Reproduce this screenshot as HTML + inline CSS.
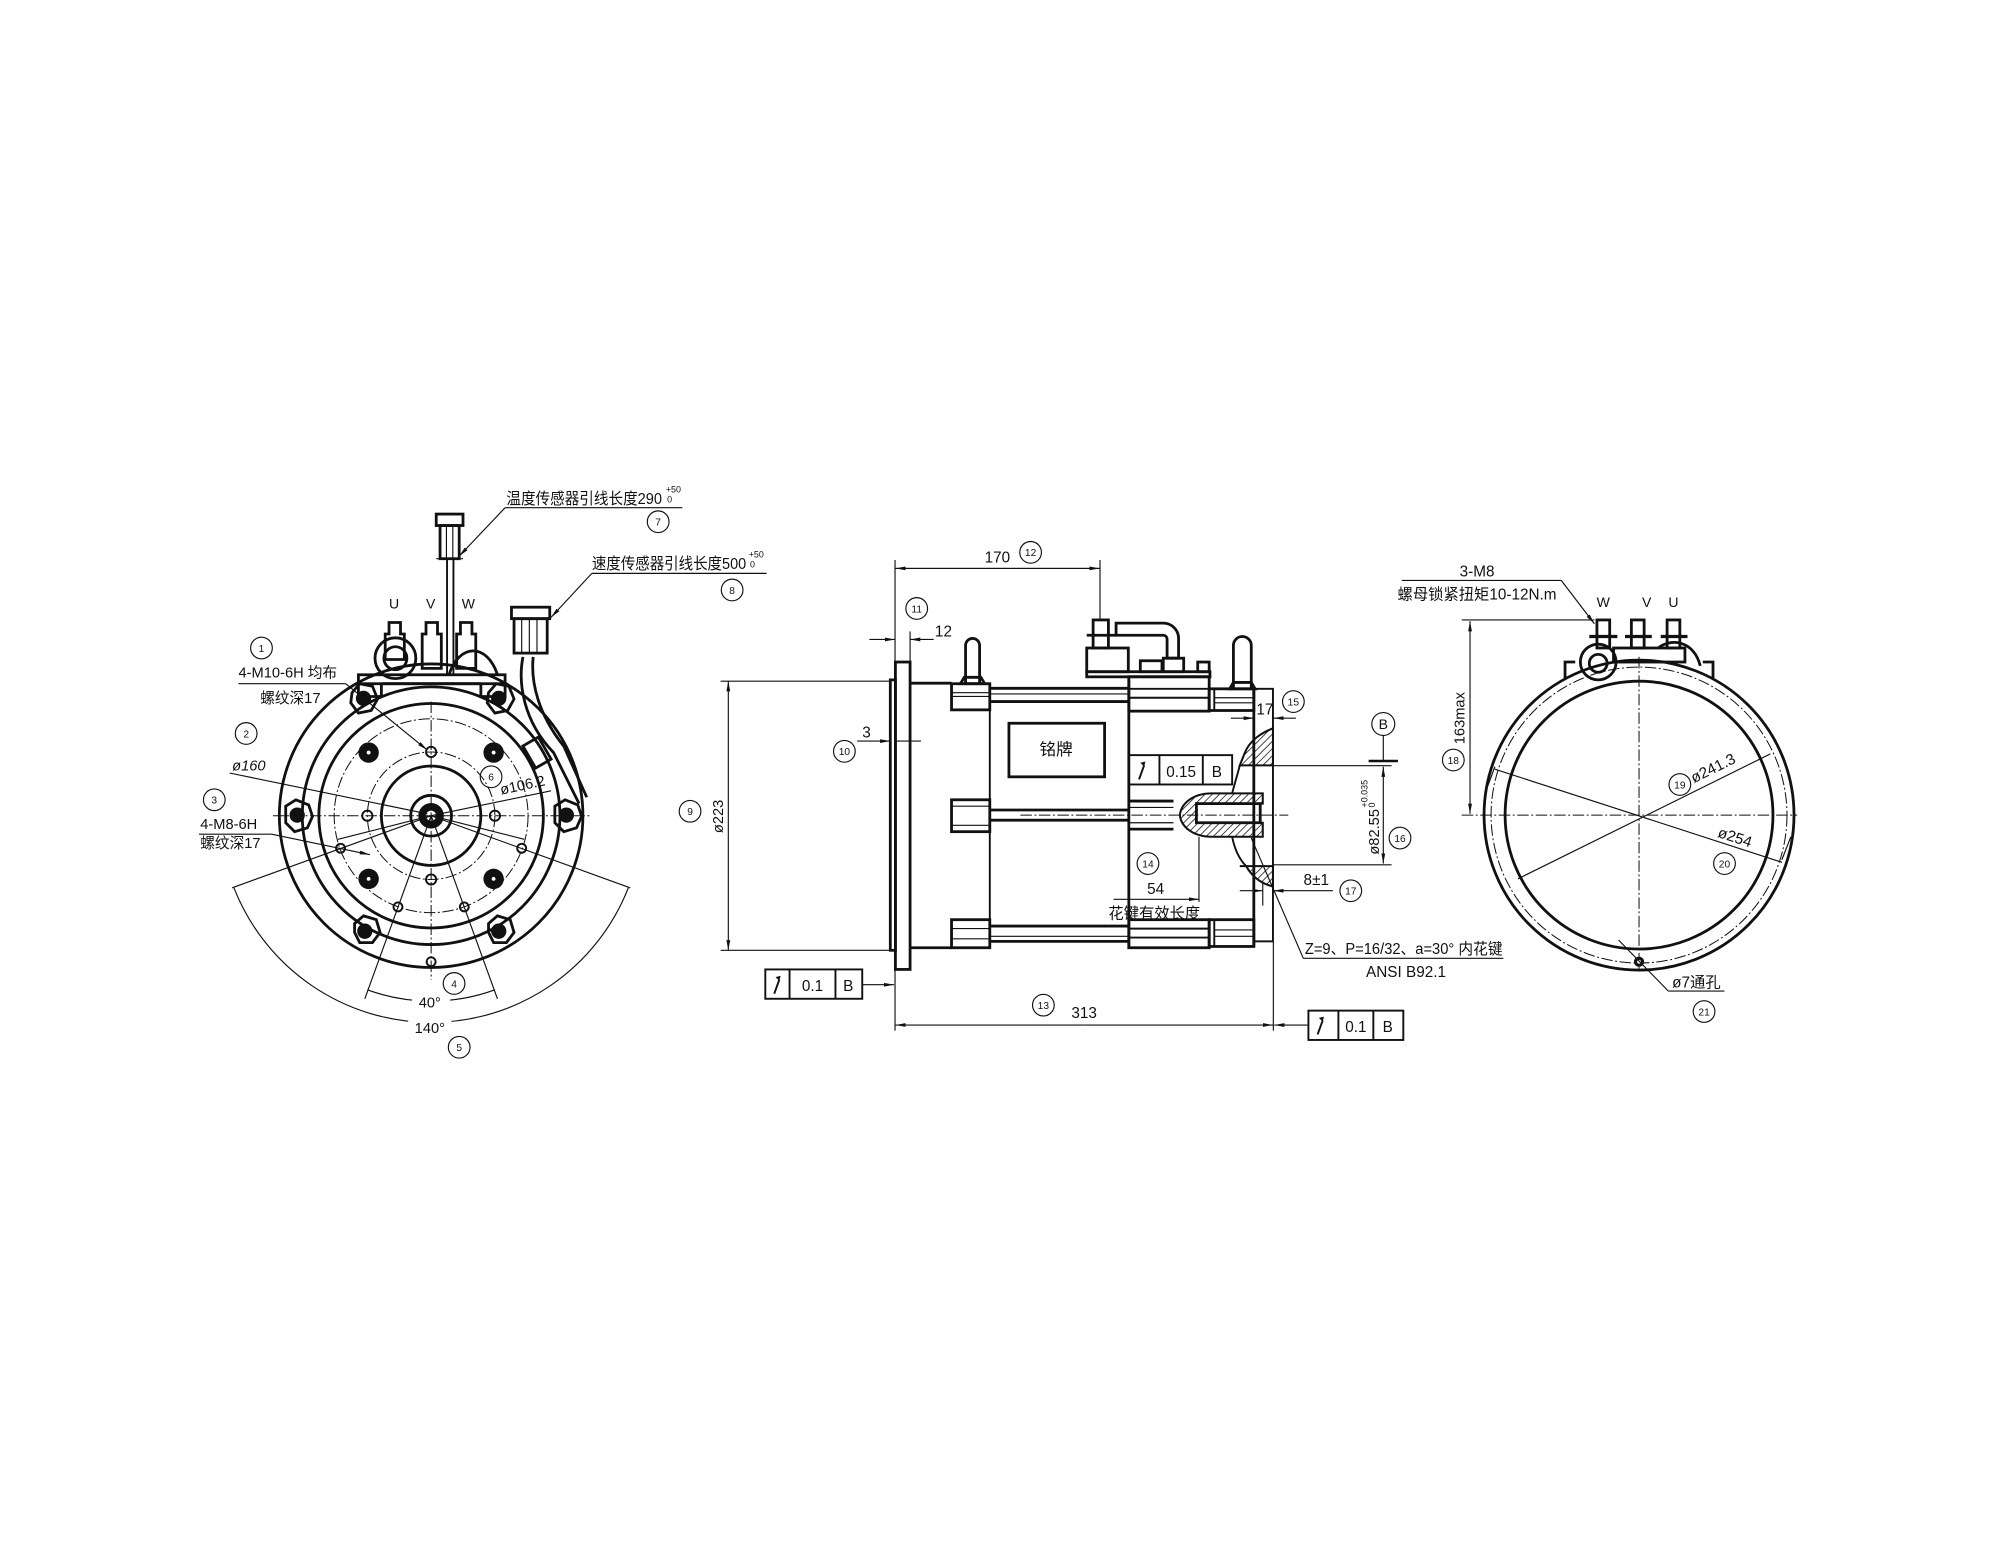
<!DOCTYPE html>
<html><head><meta charset="utf-8"><style>
html,body{margin:0;padding:0;background:#fff}
svg{display:block}
text{font-family:"Liberation Sans Narrow","Liberation Sans","Noto Sans CJK SC",sans-serif;fill:#111}
.b{stroke:#111;stroke-width:2.2;fill:none}
.m{stroke:#111;stroke-width:1.5;fill:none}
.t{stroke:#111;stroke-width:0.9;fill:none}
.d{stroke:#111;stroke-width:0.8;fill:none;stroke-dasharray:9 2 1.5 2}
.w{fill:#fff}
</style></head><body>
<svg width="2000" height="1546" viewBox="0 0 1568 1212" xmlns="http://www.w3.org/2000/svg">
<defs>
<pattern id="h" width="4" height="4" patternUnits="userSpaceOnUse" patternTransform="rotate(45)"><line x1="0" y1="0" x2="0" y2="4" stroke="#111" stroke-width="1.2"/></pattern>
<marker id="a" markerWidth="8" markerHeight="4" refX="8" refY="2" orient="auto" markerUnits="userSpaceOnUse"><path d="M0,0.5 L8,2 L0,3.5z" fill="#111"/></marker>
</defs>

<!-- ================= LEFT VIEW ================= -->
<g>
<circle class="b" cx="338" cy="639.5" r="119"/>
<circle class="b" cx="338" cy="639.5" r="101"/>
<circle class="b" cx="338" cy="639.5" r="88"/>
<circle class="d" cx="338" cy="639.5" r="76"/>
<circle class="d" cx="338" cy="639.5" r="50"/>
<circle class="b" cx="338" cy="639.5" r="39"/>
<circle class="b" cx="338" cy="639.5" r="16" stroke-width="3"/>
<circle cx="338" cy="639.5" r="10" fill="#111"/>
<circle cx="338" cy="639.5" r="4" fill="#fff"/>
<line class="d" x1="214" y1="639.5" x2="462" y2="639.5"/>
<line class="d" x1="338" y1="550" x2="338" y2="768"/>
<g fill="#111">
<circle cx="289" cy="590" r="8"/><circle cx="387" cy="590" r="8"/>
<circle cx="289" cy="689" r="8"/><circle cx="387" cy="689" r="8"/>
</g>
<g fill="#fff"><circle cx="289" cy="590" r="1.5"/><circle cx="387" cy="590" r="1.5"/><circle cx="289" cy="689" r="1.5"/><circle cx="387" cy="689" r="1.5"/></g>
<g class="m" fill="#fff">
<circle cx="338" cy="589.5" r="4"/><circle cx="288" cy="639.5" r="4"/><circle cx="388" cy="639.5" r="4"/><circle cx="338" cy="689.5" r="4"/>
<circle cx="267" cy="665" r="3.5"/><circle cx="409" cy="665" r="3.5"/><circle cx="312" cy="711" r="3.5"/><circle cx="364" cy="711" r="3.5"/>
<circle cx="338" cy="754" r="3.5"/>
</g>
<g>
<path class="b" d="M276,543 l6,-7 l10,2 l4,10 l-5,9 l-10,2 l-6,-8z" fill="#fff"/>
<path class="b" d="M383,543 l6,-7 l10,2 l4,10 l-5,9 l-10,2 l-6,-8z" fill="#fff"/>
<path class="b" d="M224,632 l8,-5 l10,4 l3,9 l-4,9 l-10,3 l-7,-7z" fill="#fff"/>
<path class="b" d="M435,632 l8,-5 l10,4 l3,9 l-4,9 l-10,3 l-7,-7z" fill="#fff"/>
<path class="b" d="M278,724 l7,-6 l10,3 l3,10 l-6,8 l-10,0 l-4,-8z" fill="#fff"/>
<path class="b" d="M383,724 l7,-6 l10,3 l3,10 l-6,8 l-10,0 l-4,-8z" fill="#fff"/>
<g fill="#111"><circle cx="285" cy="547.5" r="6"/><circle cx="391" cy="547.5" r="6"/><circle cx="233" cy="639" r="6"/><circle cx="444" cy="639" r="6"/><circle cx="286" cy="730" r="6"/><circle cx="391" cy="730" r="6"/></g>
</g>
<rect x="281" y="529" width="115" height="7" class="b" fill="#fff"/>
<path class="b" d="M281,536 v10 h18 v-10 M377,536 v10 h19 v-10" />
<path class="b" d="M300,536 h77" />
<circle class="b" cx="310" cy="516" r="16" fill="#fff"/>
<circle class="b" cx="310" cy="516" r="9"/>
<path class="b" d="M352,529 c8,-25 30,-25 38,0" />
<g class="b" fill="#fff">
<path d="M302,517 v-20 h3 v-9 h9 v9 h3 v20z"/>
<path d="M331,524 v-27 h3 v-9 h9 v9 h3 v27z"/>
<path d="M358,524 v-27 h3 v-9 h9 v9 h3 v27z"/>
</g>
<text x="305" y="477" font-size="11">U</text>
<text x="334" y="477" font-size="11">V</text>
<text x="362" y="477" font-size="11">W</text>
<line class="m" x1="350.5" y1="438" x2="350.5" y2="529"/>
<line class="m" x1="355.5" y1="438" x2="355.5" y2="529"/>
<rect class="b" x="342" y="403" width="21" height="9" fill="#fff"/>
<rect class="b" x="345" y="412" width="15" height="26" fill="#fff"/>
<line class="t" x1="350" y1="412" x2="350" y2="438"/><line class="t" x1="355" y1="412" x2="355" y2="438"/>
<line class="t" x1="342" y1="438" x2="363" y2="438" stroke-width="2"/>
<rect class="b" x="401" y="476" width="30" height="9" fill="#fff"/>
<rect class="b" x="403" y="485" width="26" height="27" fill="#fff"/>
<line class="t" x1="409" y1="485" x2="409" y2="512"/><line class="t" x1="415" y1="485" x2="415" y2="512"/><line class="t" x1="421" y1="485" x2="421" y2="512"/>
<path class="b" d="M410,515 c-4,20 0,50 24,75 l20,40" />
<path class="b" d="M418,515 c-2,20 4,45 24,70 l18,40" />
<rect class="b" x="414" y="580" width="14" height="20" transform="rotate(-30 421 590)" fill="#fff"/>
<line class="t" x1="396" y1="398" x2="360" y2="436" marker-end="url(#a)"/>
<line class="t" x1="396" y1="398" x2="535" y2="398"/>
<text x="397" y="395" font-size="12.5" textLength="122" lengthAdjust="spacingAndGlyphs">温度传感器引线长度290</text>
<text x="522" y="386" font-size="7">+50</text><text x="523" y="394" font-size="7">0</text>
<circle class="t" cx="516" cy="409" r="8.5"/><text x="516" y="412" font-size="8" text-anchor="middle">7</text>
<line class="t" x1="464" y1="449.5" x2="432" y2="484" marker-end="url(#a)"/>
<line class="t" x1="464" y1="449.5" x2="601" y2="449.5"/>
<text x="464" y="446" font-size="12.5" textLength="121" lengthAdjust="spacingAndGlyphs">速度传感器引线长度500</text>
<text x="587" y="437" font-size="7">+50</text><text x="588" y="445" font-size="7">0</text>
<circle class="t" cx="574" cy="462.5" r="8.5"/><text x="574" y="465.5" font-size="8" text-anchor="middle">8</text>

<circle class="t" cx="205" cy="508" r="8.5"/><text x="205" y="511" font-size="8" text-anchor="middle">1</text>
<text x="187" y="531" font-size="11.5">4-M10-6H 均布</text>
<line class="t" x1="187" y1="536" x2="271" y2="536"/>
<text x="204" y="551" font-size="11.5">螺纹深17</text>
<line class="t" x1="271" y1="536" x2="335" y2="588" marker-end="url(#a)"/>
<circle class="t" cx="193" cy="575" r="8.5"/><text x="193" y="578" font-size="8" text-anchor="middle">2</text>
<text x="182" y="604" font-size="11.5" font-style="italic">ø160</text>
<line class="t" x1="180" y1="606" x2="335" y2="638"/>
<circle class="t" cx="168" cy="627" r="8.5"/><text x="168" y="630" font-size="8" text-anchor="middle">3</text>
<text x="157" y="650" font-size="11.5">4-M8-6H</text>
<line class="t" x1="156" y1="654" x2="213" y2="654"/>
<text x="157" y="665" font-size="11.5">螺纹深17</text>
<line class="t" x1="213" y1="654" x2="290" y2="670" marker-end="url(#a)"/>
<line class="t" x1="338" y1="639.5" x2="432" y2="620"/>
<circle class="t" cx="385" cy="609" r="8.5"/><text x="385" y="612" font-size="8" text-anchor="middle">6</text>
<text x="393" y="623" font-size="11.5" transform="rotate(-12 393 623)">ø106.2</text>
<line class="t" x1="338" y1="639.5" x2="411" y2="658"/>
<line class="t" x1="338" y1="639.5" x2="265" y2="658"/>
<line class="t" x1="338" y1="639.5" x2="182" y2="696"/>
<line class="t" x1="338" y1="639.5" x2="494" y2="696"/>
<line class="t" x1="338" y1="639.5" x2="286" y2="783"/>
<line class="t" x1="338" y1="639.5" x2="390" y2="783"/>
<path class="t" d="M183.4,696 A166,166 0 0 0 492.6,696" />
<path class="t" d="M288,776 A146,146 0 0 0 388,776" />
<rect x="323" y="779" width="30" height="12" class="w"/>
<text x="337" y="790" font-size="11.5" text-anchor="middle">40°</text>
<rect x="320" y="799" width="34" height="12" class="w"/>
<text x="337" y="810" font-size="11.5" text-anchor="middle">140°</text>
<circle class="t" cx="356" cy="771" r="8.5"/><text x="356" y="774" font-size="8" text-anchor="middle">4</text>
<circle class="t" cx="360" cy="821" r="8.5"/><text x="360" y="824" font-size="8" text-anchor="middle">5</text>
</g>

<!-- ================= MIDDLE VIEW ================= -->
<g>
<rect class="b" x="698" y="533" width="4" height="212"/>
<rect class="b" x="702" y="519" width="11.5" height="241" fill="#fff"/>
<line class="b" x1="713.5" y1="535.6" x2="746" y2="535.6"/>
<line class="b" x1="713.5" y1="743" x2="746" y2="743"/>
<rect class="b" x="746" y="536" width="30" height="20.5"/>
<line class="t" x1="746" y1="543" x2="776" y2="543"/><line class="t" x1="746" y1="546" x2="776" y2="546"/>
<rect class="b" x="746" y="627" width="30" height="25"/>
<line class="t" x1="746" y1="632" x2="776" y2="632"/><line class="t" x1="746" y1="647" x2="776" y2="647"/>
<rect class="b" x="746" y="721" width="30" height="22"/>
<line class="t" x1="746" y1="728" x2="776" y2="728"/><line class="t" x1="746" y1="736" x2="776" y2="736"/>
<line class="m" x1="776" y1="536" x2="776" y2="743"/>
<path class="b" d="M757,536 v-30 a5.5,5.5 0 0 1 11,0 v30" fill="#fff"/>
<path class="b" d="M753,536 l3,-5 h13 l3,5z"/>
<g class="b">
<line x1="776" y1="539.6" x2="885" y2="539.6"/><line x1="776" y1="550" x2="885" y2="550"/>
<line x1="776" y1="635" x2="885" y2="635"/><line x1="776" y1="643" x2="885" y2="643"/>
<line x1="776" y1="726" x2="885" y2="726"/><line x1="776" y1="738" x2="885" y2="738"/>
</g>
<line class="t" x1="776" y1="544" x2="885" y2="544"/>
<line class="t" x1="776" y1="734" x2="885" y2="734"/>
<rect class="b" x="791" y="567" width="75" height="42"/>
<text x="828" y="592" font-size="13" text-anchor="middle">铭牌</text>
<line class="b" x1="885" y1="533" x2="885" y2="744"/>
<rect class="b" x="885" y="530.5" width="63" height="27"/>
<line class="m" x1="885" y1="540" x2="948" y2="540"/><line class="m" x1="885" y1="547" x2="948" y2="547"/>
<rect class="b" x="885" y="721" width="63" height="22"/>
<line class="m" x1="885" y1="728" x2="948" y2="728"/><line class="m" x1="885" y1="735" x2="948" y2="735"/>
<line class="b" x1="885" y1="628" x2="920" y2="628"/><line class="b" x1="885" y1="650" x2="920" y2="650"/>
<line class="t" x1="885" y1="633" x2="920" y2="633"/><line class="t" x1="885" y1="645" x2="920" y2="645"/>
<rect class="b" x="948" y="540" width="35" height="17"/>
<line class="m" x1="952" y1="540" x2="952" y2="557"/>
<line class="t" x1="952" y1="547" x2="983" y2="547"/><line class="t" x1="952" y1="551" x2="983" y2="551"/>
<rect class="b" x="948" y="721" width="35" height="21"/>
<line class="m" x1="952" y1="721" x2="952" y2="742"/>
<line class="t" x1="952" y1="729" x2="983" y2="729"/><line class="t" x1="952" y1="734" x2="983" y2="734"/>
<line class="b" x1="983" y1="540" x2="983" y2="742"/>
<rect class="m" x="983" y="540" width="15" height="198"/>
<path class="b" d="M967,540 v-34 a7,7 0 0 1 14,0 v34" fill="#fff"/>
<path class="b" d="M964,540 l3,-5 h14 l3,5z"/>
<line class="t" x1="862.4" y1="439" x2="862.4" y2="486"/>
<rect class="b" x="857" y="486" width="12" height="22" fill="#fff"/>
<line class="b" x1="852" y1="498" x2="875" y2="498"/>
<rect class="b" x="852" y="508" width="32.6" height="18.6" fill="#fff"/>
<rect class="b" x="852" y="526.6" width="96.6" height="4" fill="#fff"/>
<path class="b" d="M875,488.5 h37 a12,12 0 0 1 12,12 v15.5 h-9 v-15 a3,3 0 0 0 -3,-3 h-37z" fill="#fff"/>
<rect class="b" x="894" y="518" width="17" height="8.6"/>
<rect class="b" x="939" y="519" width="9" height="7.6"/>
<rect class="b" x="912" y="516" width="16" height="10.6"/>
<path d="M998,571 C990,574 980,580 976,590 L972,600 L998,600z" fill="url(#h)" stroke="#111" stroke-width="1.6"/>
<path d="M972,679 L998,679 L998,695 C990,693 982,688 977,679z" fill="url(#h)" stroke="#111" stroke-width="1.6"/>
<path d="M990,622 H950 C935,622 926,630 925,639 C926,648 935,656 950,656 H990 V645 H938 V630 H990z" fill="url(#h)" stroke="#111" stroke-width="1.6"/>
<path d="M966,622 C968,614 970,608 972,600 M966,656 C968,666 972,674 977,679" class="m"/>
<rect class="b" x="938" y="630" width="50" height="15" fill="#fff"/>
<line class="d" x1="800" y1="639" x2="1010" y2="639"/>
<line class="t" x1="940" y1="656" x2="940" y2="707"/>
<rect class="m" x="885" y="592" width="81" height="23" fill="#fff"/>
<line class="m" x1="909" y1="592" x2="909" y2="615"/><line class="m" x1="943" y1="592" x2="943" y2="615"/>
<path d="M893,611 l4,-11" class="m"/><path d="M894,598 l4,-1 l-1,4z" fill="#111"/>
<text x="926" y="609" font-size="12" text-anchor="middle">0.15</text>
<text x="954" y="609" font-size="12" text-anchor="middle">B</text>
<line class="t" x1="701.7" y1="439" x2="701.7" y2="808"/>
<line class="t" x1="702" y1="445.6" x2="862" y2="445.6" marker-end="url(#a)"/>
<line class="t" x1="862" y1="445.6" x2="702" y2="445.6" marker-end="url(#a)"/>
<text x="782" y="441" font-size="12" text-anchor="middle">170</text>
<circle class="t" cx="808" cy="433" r="8.5"/><text x="808" y="436" font-size="8" text-anchor="middle">12</text>
<circle class="t" cx="718.7" cy="477" r="8.5"/><text x="718.7" y="480" font-size="8" text-anchor="middle">11</text>
<line class="t" x1="713.5" y1="495" x2="713.5" y2="519"/>
<line class="t" x1="681.6" y1="501.3" x2="701.7" y2="501.3" marker-end="url(#a)"/>
<line class="t" x1="732" y1="501.3" x2="713.5" y2="501.3" marker-end="url(#a)"/>
<text x="733" y="499" font-size="12">12</text>
<circle class="t" cx="662" cy="589" r="8.5"/><text x="662" y="592" font-size="8" text-anchor="middle">10</text>
<line class="t" x1="672" y1="581" x2="698" y2="581" marker-end="url(#a)"/>
<line class="t" x1="702" y1="581" x2="722" y2="581"/>
<text x="676" y="578" font-size="12">3</text>
<line class="t" x1="565" y1="534" x2="698" y2="534"/>
<line class="t" x1="565" y1="745" x2="698" y2="745"/>
<line class="t" x1="571" y1="640" x2="571" y2="534" marker-end="url(#a)"/>
<line class="t" x1="571" y1="640" x2="571" y2="745" marker-end="url(#a)"/>
<text x="567" y="640" font-size="11.5" text-anchor="middle" transform="rotate(-90 567 640)">ø223</text>
<circle class="t" cx="541" cy="636" r="8.5"/><text x="541" y="639" font-size="8" text-anchor="middle">9</text>
<rect class="m" x="600" y="760" width="76" height="23" fill="#fff"/>
<line class="m" x1="619" y1="760" x2="619" y2="783"/><line class="m" x1="655" y1="760" x2="655" y2="783"/>
<path d="M607,779 l4,-11" class="m"/><path d="M608,766 l4,-1 l-1,4z" fill="#111"/>
<text x="637" y="777" font-size="12" text-anchor="middle">0.1</text>
<text x="665" y="777" font-size="12" text-anchor="middle">B</text>
<line class="t" x1="676" y1="772" x2="701" y2="772" marker-end="url(#a)"/>
<line class="t" x1="998.3" y1="738" x2="998.3" y2="808"/>
<line class="t" x1="850" y1="803.6" x2="702" y2="803.6" marker-end="url(#a)"/>
<line class="t" x1="850" y1="803.6" x2="998" y2="803.6" marker-end="url(#a)"/>
<text x="850" y="798" font-size="12" text-anchor="middle">313</text>
<circle class="t" cx="818" cy="788" r="8.5"/><text x="818" y="791" font-size="8" text-anchor="middle">13</text>
<rect class="m" x="1025.8" y="792.3" width="74.4" height="23" fill="#fff"/>
<line class="m" x1="1049.3" y1="792.3" x2="1049.3" y2="815.3"/><line class="m" x1="1076.7" y1="792.3" x2="1076.7" y2="815.3"/>
<path d="M1033,811 l4,-11" class="m"/><path d="M1034,798 l4,-1 l-1,4z" fill="#111"/>
<text x="1063" y="809" font-size="12" text-anchor="middle">0.1</text>
<text x="1088" y="809" font-size="12" text-anchor="middle">B</text>
<line class="t" x1="1025.8" y1="803.6" x2="999" y2="803.6" marker-end="url(#a)"/>
<line class="t" x1="983" y1="557" x2="983" y2="568"/>
<line class="t" x1="965" y1="563" x2="983" y2="563" marker-end="url(#a)"/>
<line class="t" x1="1016" y1="563" x2="998.3" y2="563" marker-end="url(#a)"/>
<text x="985" y="560" font-size="12">17</text>
<circle class="t" cx="1014" cy="550" r="8.5"/><text x="1014" y="553" font-size="8" text-anchor="middle">15</text>
<circle class="t" cx="1084.5" cy="567.6" r="9"/><text x="1084.5" y="571.5" font-size="11" text-anchor="middle">B</text>
<line class="t" x1="1084.5" y1="576.6" x2="1084.5" y2="596"/>
<line x1="1073" y1="596.6" x2="1096" y2="596.6" stroke="#111" stroke-width="2"/>
<line class="t" x1="998" y1="600.3" x2="1091" y2="600.3"/>
<line class="t" x1="998" y1="678" x2="1091" y2="678"/>
<line class="t" x1="1084.5" y1="640" x2="1084.5" y2="601" marker-end="url(#a)"/>
<line class="t" x1="1084.5" y1="640" x2="1084.5" y2="677" marker-end="url(#a)"/>
<text x="1081" y="670" font-size="11.5" transform="rotate(-90 1081 670)">ø82.55</text>
<text x="1072" y="633" font-size="7" transform="rotate(-90 1072 633)">+0.035</text>
<text x="1078" y="633" font-size="7" transform="rotate(-90 1078 633)">0</text>
<circle class="t" cx="1097.6" cy="657" r="8.5"/><text x="1097.6" y="660" font-size="8" text-anchor="middle">16</text>
<line class="t" x1="990" y1="692" x2="990" y2="710"/>
<line class="t" x1="972" y1="698.3" x2="990" y2="698.3" marker-end="url(#a)"/>
<line class="t" x1="1045" y1="698.3" x2="998.3" y2="698.3" marker-end="url(#a)"/>
<text x="1022" y="694" font-size="12">8±1</text>
<circle class="t" cx="1059" cy="698.3" r="8.5"/><text x="1059" y="701.3" font-size="8" text-anchor="middle">17</text>
<circle class="t" cx="900" cy="677" r="8.5"/><text x="900" y="680" font-size="8" text-anchor="middle">14</text>
<line class="t" x1="873" y1="705" x2="940" y2="705" marker-end="url(#a)"/>
<text x="906" y="701" font-size="12" text-anchor="middle">54</text>
<text x="905" y="720" font-size="12" text-anchor="middle">花键有效长度</text>
<line class="t" x1="981" y1="657" x2="1021.8" y2="751.3"/>
<line class="t" x1="1021.8" y1="751.3" x2="1178.6" y2="751.3"/>
<text x="1023" y="748" font-size="12" textLength="155" lengthAdjust="spacingAndGlyphs">Z=9、P=16/32、a=30° 内花键</text>
<text x="1071" y="766" font-size="12">ANSI B92.1</text>
</g>

<!-- ================= RIGHT VIEW ================= -->
<g>
<circle class="b" cx="1285" cy="639" r="121.5"/>
<circle class="d" cx="1285" cy="639" r="116"/>
<circle class="b" cx="1285" cy="639" r="105"/>
<line class="d" x1="1146" y1="639" x2="1409" y2="639"/>
<line class="d" x1="1285" y1="515" x2="1285" y2="760"/>
<line class="t" x1="1172" y1="603" x2="1397" y2="676"/>
<line class="t" x1="1388" y1="591" x2="1190" y2="689"/>
<line class="t" x1="1172" y1="601" x2="1165" y2="620"/>
<line class="t" x1="1397" y1="674" x2="1404" y2="656"/>
<path class="b" d="M1227,532 v-13 h8 M1343,532 v-13 h-8"/>
<circle class="b" cx="1253" cy="519" r="14" fill="#fff"/>
<circle class="b" cx="1253" cy="520" r="7"/>
<path class="b" d="M1300,508 c10,-8 28,-6 33,14"/>
<rect class="b" x="1265" y="508" width="56" height="11" fill="#fff"/>
<g class="b" fill="#fff">
<rect x="1252" y="486" width="10" height="22"/><rect x="1279" y="486" width="10" height="22"/><rect x="1307" y="486" width="10" height="22"/>
</g>
<g stroke="#111" stroke-width="2.5"><line x1="1246" y1="499" x2="1268" y2="499"/><line x1="1274" y1="499" x2="1295" y2="499"/><line x1="1302" y1="499" x2="1323" y2="499"/></g>
<text x="1257" y="476" font-size="11" text-anchor="middle">W</text>
<text x="1291" y="476" font-size="11" text-anchor="middle">V</text>
<text x="1312" y="476" font-size="11" text-anchor="middle">U</text>
<text x="1158" y="452" font-size="12" text-anchor="middle">3-M8</text>
<line class="t" x1="1099" y1="455" x2="1224" y2="455"/>
<text x="1158" y="470" font-size="12" text-anchor="middle">螺母锁紧扭矩10-12N.m</text>
<line class="t" x1="1224" y1="455" x2="1250" y2="489" marker-end="url(#a)"/>
<line class="t" x1="1146" y1="486" x2="1250" y2="486"/>
<line class="t" x1="1152.5" y1="560" x2="1152.5" y2="487" marker-end="url(#a)"/>
<line class="t" x1="1152.5" y1="560" x2="1152.5" y2="638" marker-end="url(#a)"/>
<text x="1148" y="563" font-size="11.5" text-anchor="middle" transform="rotate(-90 1148 563)">163max</text>
<circle class="t" cx="1139.4" cy="595.8" r="8.5"/><text x="1139.4" y="598.8" font-size="8" text-anchor="middle">18</text>
<text x="1328" y="614" font-size="12" transform="rotate(-26 1328 614)">ø241.3</text>
<circle class="t" cx="1317" cy="615" r="8.5"/><text x="1317" y="618" font-size="8" text-anchor="middle">19</text>
<text x="1346" y="656" font-size="12" transform="rotate(18 1346 656)">ø254</text>
<circle class="t" cx="1352" cy="677" r="8.5"/><text x="1352" y="680" font-size="8" text-anchor="middle">20</text>
<circle cx="1285" cy="754" r="4" fill="#111"/><circle cx="1285" cy="754" r="1.5" fill="#fff"/>
<line class="t" x1="1269" y1="737" x2="1308" y2="777"/>
<line class="t" x1="1308" y1="777" x2="1352" y2="777"/>
<text x="1311" y="774" font-size="12">ø7通孔</text>
<circle class="t" cx="1336" cy="793" r="8.5"/><text x="1336" y="796" font-size="8" text-anchor="middle">21</text>
</g>
</svg>
</body></html>
